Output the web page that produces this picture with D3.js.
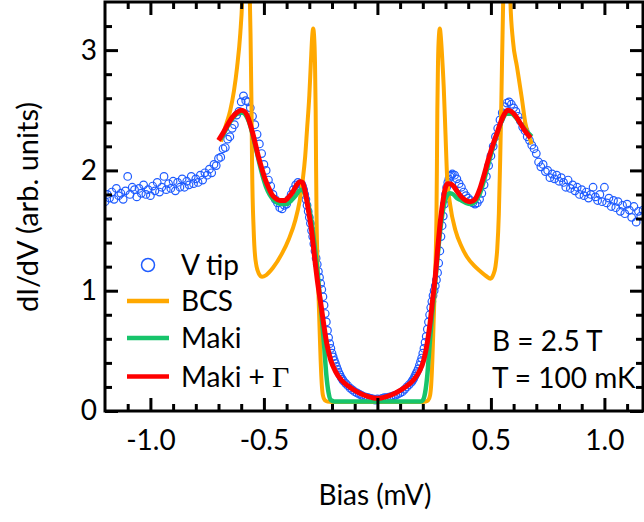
<!DOCTYPE html>
<html><head><meta charset="utf-8">
<script src="https://cdn.jsdelivr.net/npm/d3@7"></script>
<style>body{margin:0;background:#fff}svg{display:block}</style>
</head><body>
<svg id="chart" width="644" height="522"></svg>
<script>
// ---- data (bias in mV, dI/dV in arb. units) ----
const tipData = [
[-1.20,1.74],[-1.19,1.80],[-1.18,1.77],[-1.17,1.82],[-1.16,1.76],[-1.15,1.85],[-1.14,1.79],[-1.13,1.81],[-1.12,1.76],[-1.11,1.83],
[-1.10,1.95],[-1.09,1.80],[-1.08,1.86],[-1.07,1.84],[-1.06,1.78],[-1.05,1.85],[-1.04,1.81],[-1.03,1.88],[-1.02,1.80],[-1.01,1.84],
[-1.00,1.79],[-0.99,1.87],[-0.98,1.83],[-0.97,1.90],[-0.96,1.82],[-0.95,1.86],[-0.94,1.95],[-0.93,1.84],[-0.92,1.89],[-0.91,1.85],
[-0.90,1.91],[-0.89,1.83],[-0.88,1.90],[-0.87,1.86],[-0.86,1.93],[-0.85,1.86],[-0.84,1.91],[-0.83,1.88],[-0.82,1.95],[-0.81,1.89],
[-0.80,1.93],[-0.79,1.90],[-0.78,1.96],[-0.77,1.92],[-0.76,1.98],[-0.75,1.96],[-0.74,2.01],[-0.73,1.98],[-0.72,2.05],[-0.71,2.04],
[-0.70,2.10],[-0.69,2.11],[-0.68,2.18],[-0.67,2.19],[-0.66,2.26],[-0.65,2.28],[-0.64,2.35],[-0.63,2.38],[-0.62,2.46],[-0.61,2.49],
[-0.60,2.57],[-0.59,2.62],[-0.58,2.58],[-0.57,2.57],[-0.56,2.52],[-0.55,2.45],[-0.54,2.38],[-0.53,2.30],[-0.52,2.22],[-0.51,2.14],
[-0.50,2.05],[-0.49,2.00],[-0.48,1.92],[-0.47,1.87],[-0.46,1.80],[-0.45,1.76],[-0.44,1.73],[-0.43,1.69],[-0.42,1.68],[-0.41,1.71],
[-0.40,1.72],[-0.39,1.76],[-0.38,1.80],[-0.37,1.84],[-0.36,1.88],[-0.35,1.90],[-0.34,1.89],
[-0.335,1.89],[-0.330,1.87],[-0.325,1.84],[-0.320,1.80],[-0.315,1.76],[-0.310,1.71],[-0.305,1.66],[-0.300,1.61],[-0.295,1.56],
[-0.290,1.50],[-0.285,1.45],[-0.280,1.39],[-0.275,1.33],[-0.270,1.27],[-0.265,1.22],[-0.260,1.16],[-0.255,1.11],[-0.250,1.06],
[-0.245,1.01],[-0.240,0.95],[-0.235,0.88],[-0.230,0.81],[-0.225,0.74],[-0.220,0.67],[-0.215,0.61],[-0.210,0.56],[-0.205,0.52],
[-0.200,0.48],[-0.195,0.45],[-0.190,0.42],[-0.185,0.395],[-0.180,0.37],[-0.175,0.345],[-0.170,0.32],[-0.165,0.30],[-0.160,0.28],
[-0.155,0.265],[-0.150,0.25],
[-0.14,0.23],[-0.13,0.21],[-0.12,0.19],[-0.11,0.175],[-0.10,0.16],[-0.09,0.15],[-0.08,0.14],[-0.07,0.13],[-0.06,0.12],[-0.05,0.115],
[-0.04,0.11],[-0.03,0.105],[-0.02,0.10],[-0.01,0.09],[0.00,0.10],[0.01,0.095],[0.02,0.105],[0.03,0.11],[0.04,0.11],[0.05,0.115],
[0.06,0.12],[0.07,0.125],[0.08,0.13],[0.09,0.14],[0.10,0.15],[0.11,0.16],[0.12,0.18],[0.13,0.20],[0.14,0.22],
[0.150,0.24],[0.155,0.255],[0.160,0.27],[0.165,0.29],[0.170,0.31],[0.175,0.33],[0.180,0.35],[0.185,0.38],[0.190,0.41],[0.195,0.44],
[0.200,0.48],[0.205,0.52],[0.210,0.57],[0.215,0.62],[0.220,0.68],[0.225,0.74],[0.230,0.80],[0.235,0.86],[0.240,0.91],[0.245,0.96],
[0.250,1.00],[0.255,1.04],[0.260,1.09],[0.265,1.15],[0.270,1.23],[0.275,1.33],[0.280,1.45],[0.285,1.54],[0.290,1.62],[0.295,1.72],
[0.300,1.80],[0.305,1.86],[0.310,1.90],[0.315,1.93],[0.320,1.95],[0.325,1.96],[0.330,1.97],
[0.34,1.96],[0.35,1.93],[0.36,1.89],[0.37,1.86],[0.38,1.82],[0.39,1.79],[0.40,1.77],[0.41,1.75],[0.42,1.73],[0.43,1.72],
[0.44,1.73],[0.45,1.76],[0.46,1.81],[0.47,1.88],[0.48,1.95],[0.49,2.04],[0.50,2.12],[0.51,2.20],[0.52,2.28],[0.53,2.35],
[0.54,2.42],[0.55,2.48],[0.56,2.53],[0.57,2.56],[0.58,2.57],[0.59,2.55],[0.60,2.52],[0.61,2.49],[0.62,2.45],[0.63,2.41],
[0.64,2.36],[0.65,2.33],[0.66,2.28],[0.67,2.25],[0.68,2.21],[0.69,2.18],[0.70,2.14],[0.71,2.07],[0.72,2.03],[0.73,2.05],
[0.74,1.99],[0.75,2.00],[0.76,1.94],[0.77,1.97],[0.78,1.93],[0.79,1.96],[0.80,1.91],[0.81,1.94],[0.82,1.90],[0.83,1.86],
[0.84,1.92],[0.85,1.85],[0.86,1.88],[0.87,1.83],[0.88,1.86],[0.89,1.80],[0.90,1.84],[0.91,1.79],[0.92,1.82],[0.93,1.77],
[0.94,1.80],[0.95,1.86],[0.96,1.78],[0.97,1.75],[0.98,1.80],[0.99,1.74],[1.00,1.86],[1.01,1.73],[1.02,1.77],[1.03,1.70],
[1.04,1.75],[1.05,1.69],[1.06,1.74],[1.07,1.66],[1.08,1.71],[1.09,1.64],[1.10,1.72],[1.11,1.67],[1.12,1.61],[1.13,1.70],
[1.14,1.57],[1.15,1.66],[1.16,1.62],[1.17,1.67]
];

const bcsData = [
[-0.69,2.24],[-0.67,2.36],[-0.648,2.50],[-0.632,2.66],[-0.618,2.86],[-0.604,3.14],[-0.596,3.40],[-0.588,4.0],[-0.578,4.5],
[-0.570,4.2],[-0.564,3.6],[-0.559,3.14],[-0.555,2.59],[-0.552,2.03],[-0.545,1.50],[-0.537,1.255],[-0.523,1.145],[-0.508,1.116],
[-0.49,1.13],[-0.46,1.19],[-0.42,1.31],[-0.39,1.43],[-0.361,1.59],[-0.343,1.74],[-0.329,1.92],[-0.318,2.12],[-0.31,2.34],
[-0.30,2.62],[-0.293,2.90],[-0.287,3.12],[-0.283,3.18],[-0.279,3.12],[-0.275,2.90],[-0.272,2.50],[-0.270,2.00],[-0.268,1.60],
[-0.265,1.30],[-0.260,1.00],[-0.255,0.70],[-0.250,0.42],[-0.245,0.22],[-0.240,0.13],[-0.232,0.09],[-0.22,0.078],[-0.20,0.075],
[0.20,0.075],[0.212,0.078],[0.224,0.09],[0.232,0.13],[0.237,0.22],[0.242,0.42],[0.247,0.70],[0.252,1.00],[0.257,1.30],
[0.260,1.60],[0.262,2.00],[0.264,2.50],[0.267,2.90],[0.271,3.12],[0.275,3.18],[0.279,3.12],[0.285,2.95],[0.292,2.70],
[0.300,2.30],[0.307,1.95],[0.32,1.72],[0.344,1.50],[0.37,1.37],[0.395,1.28],[0.425,1.21],[0.454,1.16],[0.48,1.12],
[0.498,1.10],[0.51,1.13],[0.52,1.20],[0.528,1.35],[0.535,1.64],[0.541,2.10],[0.545,2.47],[0.549,2.90],[0.553,3.30],
[0.556,3.60],[0.562,4.1],[0.570,4.5],[0.578,4.1],[0.586,3.40],[0.597,3.08],[0.615,2.86],[0.637,2.59],[0.652,2.39],
[0.665,2.30],[0.68,2.22]
];

const makiData = [
[-0.69,2.26],[-0.67,2.33],[-0.65,2.40],[-0.63,2.45],[-0.61,2.48],[-0.595,2.48],[-0.58,2.46],[-0.565,2.40],[-0.55,2.30],
[-0.535,2.18],[-0.52,2.06],[-0.505,1.95],[-0.49,1.86],[-0.475,1.80],[-0.46,1.76],[-0.44,1.73],[-0.42,1.72],[-0.40,1.72],
[-0.38,1.75],[-0.36,1.79],[-0.345,1.83],[-0.335,1.84],[-0.32,1.81],[-0.305,1.72],[-0.29,1.57],[-0.277,1.38],[-0.265,1.18],
[-0.255,0.98],[-0.245,0.78],[-0.235,0.55],[-0.225,0.30],[-0.215,0.15],[-0.205,0.09],[-0.19,0.08],
[0.19,0.08],[0.20,0.09],[0.21,0.15],[0.22,0.30],[0.23,0.55],[0.24,0.78],[0.25,0.98],[0.26,1.18],[0.27,1.38],[0.28,1.55],
[0.29,1.68],[0.30,1.76],[0.31,1.80],[0.32,1.81],[0.335,1.80],[0.35,1.77],[0.37,1.75],[0.39,1.73],[0.41,1.72],[0.43,1.74],
[0.45,1.80],[0.47,1.92],[0.49,2.06],[0.51,2.20],[0.53,2.32],[0.55,2.42],[0.57,2.47],[0.59,2.47],[0.61,2.44],[0.63,2.39],
[0.65,2.34],[0.68,2.28]
];

const makiGammaData = [
[-0.70,2.25],[-0.68,2.31],[-0.66,2.38],[-0.64,2.44],[-0.62,2.48],[-0.60,2.50],[-0.585,2.49],[-0.57,2.44],[-0.555,2.35],
[-0.54,2.24],[-0.525,2.12],[-0.51,2.02],[-0.495,1.93],[-0.48,1.86],[-0.465,1.80],[-0.45,1.77],[-0.43,1.75],[-0.41,1.75],
[-0.39,1.78],[-0.37,1.83],[-0.355,1.88],[-0.34,1.905],[-0.33,1.90],[-0.32,1.84],[-0.305,1.68],[-0.29,1.50],[-0.275,1.25],
[-0.262,1.05],[-0.25,0.90],[-0.235,0.70],[-0.222,0.55],[-0.205,0.42],[-0.185,0.33],[-0.16,0.26],[-0.12,0.195],[-0.08,0.15],
[-0.04,0.12],[0.00,0.105],[0.04,0.12],[0.08,0.15],[0.12,0.195],[0.16,0.26],[0.185,0.33],[0.205,0.43],[0.22,0.57],[0.232,0.73],
[0.243,0.92],[0.255,1.12],[0.267,1.38],[0.278,1.59],[0.29,1.76],[0.30,1.86],[0.31,1.89],[0.32,1.89],[0.335,1.87],[0.35,1.83],
[0.37,1.78],[0.39,1.75],[0.41,1.74],[0.43,1.76],[0.45,1.84],[0.468,1.95],[0.49,2.10],[0.51,2.22],[0.527,2.31],[0.545,2.41],
[0.56,2.47],[0.574,2.50],[0.59,2.49],[0.61,2.45],[0.63,2.39],[0.65,2.33],[0.675,2.27]
];

const xMajorTicks = [-1.0, -0.5, 0.0, 0.5, 1.0];
const xTickLabels = ["-1.0", "-0.5", "0.0", "0.5", "1.0"];
const xMinorTicks = [-1.1,-0.9,-0.8,-0.7,-0.6,-0.4,-0.3,-0.2,-0.1,0.1,0.2,0.3,0.4,0.6,0.7,0.8,0.9,1.1];
const yMajorTicks = [0, 1, 2, 3];
const yTickLabels = ["0", "1", "2", "3"];
const yMinorTicks = [0.2,0.4,0.6,0.8,1.2,1.4,1.6,1.8,2.2,2.4,2.6,2.8,3.2];
const legendItems = ["V tip", "BCS", "Maki", "Maki + "];
const annotations = ["B = 2.5 T", "T = 100 mK"];

// ---- drawing ----
const svg = d3.select("#chart");
const L = 105, R = 643, T = 2, B = 411;
const x = d3.scaleLinear().domain([-1.2, 1.17]).range([L, R]);
const y = d3.scaleLinear().domain([0, 3.4]).range([B, T]);
const FONT = "Lato, 'Open Sans', sans-serif";
const FS = 28;
const colors = {tip: "#1f5cff", bcs: "#ffa800", maki: "#17c46b", makiG: "#ff0000"};

svg.append("defs").append("clipPath").attr("id", "plotclip")
  .append("rect").attr("x", L).attr("y", T).attr("width", R - L).attr("height", B - T);

const plot = svg.append("g").attr("clip-path", "url(#plotclip)");

plot.append("g").selectAll("circle").data(tipData).join("circle")
  .attr("cx", d => x(d[0])).attr("cy", d => y(d[1])).attr("r", 3.8)
  .attr("fill", "none").attr("stroke", colors.tip).attr("stroke-width", 1.2);

const line = d3.line().x(d => x(d[0])).y(d => y(d[1])).curve(d3.curveMonotoneX);
plot.append("path").datum(bcsData).attr("d", line).attr("fill", "none")
  .attr("stroke", colors.bcs).attr("stroke-width", 4).attr("stroke-linejoin", "round");
plot.append("path").datum(makiData).attr("d", line).attr("fill", "none")
  .attr("stroke", colors.maki).attr("stroke-width", 4.5).attr("stroke-linejoin", "round");
plot.append("path").datum(makiGammaData).attr("d", line).attr("fill", "none")
  .attr("stroke", colors.makiG).attr("stroke-width", 5).attr("stroke-linejoin", "round");

// axes
function styleAxis(g) {
  g.select(".domain").remove();
  g.selectAll(".tick line").attr("stroke", "#000").attr("stroke-width", 3);
  g.selectAll(".tick text").attr("font-family", FONT).attr("font-size", FS).attr("fill", "#000");
}
svg.append("g").attr("transform", `translate(0,${B})`)
  .call(d3.axisBottom(x).tickValues(xMajorTicks).tickSize(-13).tickPadding(19)
    .tickFormat((d, i) => xTickLabels[i]))
  .call(styleAxis);
svg.append("g").attr("transform", `translate(0,${B})`)
  .call(d3.axisBottom(x).tickValues(xMinorTicks).tickSize(-7).tickFormat(""))
  .call(styleAxis);
svg.append("g").attr("transform", `translate(0,${T})`)
  .call(d3.axisTop(x).tickValues(xMajorTicks).tickSize(-13).tickFormat(""))
  .call(styleAxis);
svg.append("g").attr("transform", `translate(0,${T})`)
  .call(d3.axisTop(x).tickValues(xMinorTicks).tickSize(-7).tickFormat(""))
  .call(styleAxis);
svg.append("g").attr("transform", `translate(${L},0)`)
  .call(d3.axisLeft(y).tickValues(yMajorTicks).tickSize(-13).tickPadding(8)
    .tickFormat((d, i) => yTickLabels[i]))
  .call(styleAxis);
svg.append("g").attr("transform", `translate(${L},0)`)
  .call(d3.axisLeft(y).tickValues(yMinorTicks).tickSize(-7).tickFormat(""))
  .call(styleAxis);
svg.append("g").attr("transform", `translate(${R},0)`)
  .call(d3.axisRight(y).tickValues(yMajorTicks).tickSize(-13).tickFormat(""))
  .call(styleAxis);
svg.append("g").attr("transform", `translate(${R},0)`)
  .call(d3.axisRight(y).tickValues(yMinorTicks).tickSize(-7).tickFormat(""))
  .call(styleAxis);

svg.append("rect").attr("x", L).attr("y", T).attr("width", R - L).attr("height", B - T)
  .attr("fill", "none").attr("stroke", "#000").attr("stroke-width", 3);

// axis titles
svg.append("text").attr("x", 375).attr("y", 505).attr("text-anchor", "middle")
  .attr("font-family", FONT).attr("font-size", FS).text("Bias (mV)");
svg.append("text").attr("transform", "translate(38,207) rotate(-90)").attr("text-anchor", "middle")
  .attr("font-family", FONT).attr("font-size", 29).text("dI/dV (arb. units)");

// legend
const lg = svg.append("g");
const rowsY = [265, 301, 338, 376.5];
lg.append("circle").attr("cx", 148).attr("cy", rowsY[0]).attr("r", 6.5)
  .attr("fill", "none").attr("stroke", colors.tip).attr("stroke-width", 1.5);
[colors.bcs, colors.maki, colors.makiG].forEach((c, i) => {
  lg.append("line").attr("x1", 127).attr("x2", 169).attr("y1", rowsY[i + 1]).attr("y2", rowsY[i + 1])
    .attr("stroke", c).attr("stroke-width", 4.5);
});
legendItems.forEach((t, i) => {
  const tx = lg.append("text").attr("x", 181).attr("y", rowsY[i] + 10)
    .attr("font-family", FONT).attr("font-size", FS).text(t);
  if (i === 3) tx.append("tspan").attr("font-family", "'Liberation Serif', 'Times New Roman', serif")
    .attr("font-size", 30).text("Γ");
});

// annotations
annotations.forEach((t, i) => {
  svg.append("text").attr("x", 492).attr("y", 351 + i * 36.5)
    .attr("font-family", FONT).attr("font-size", FS).text(t);
});
</script>
</body></html>
